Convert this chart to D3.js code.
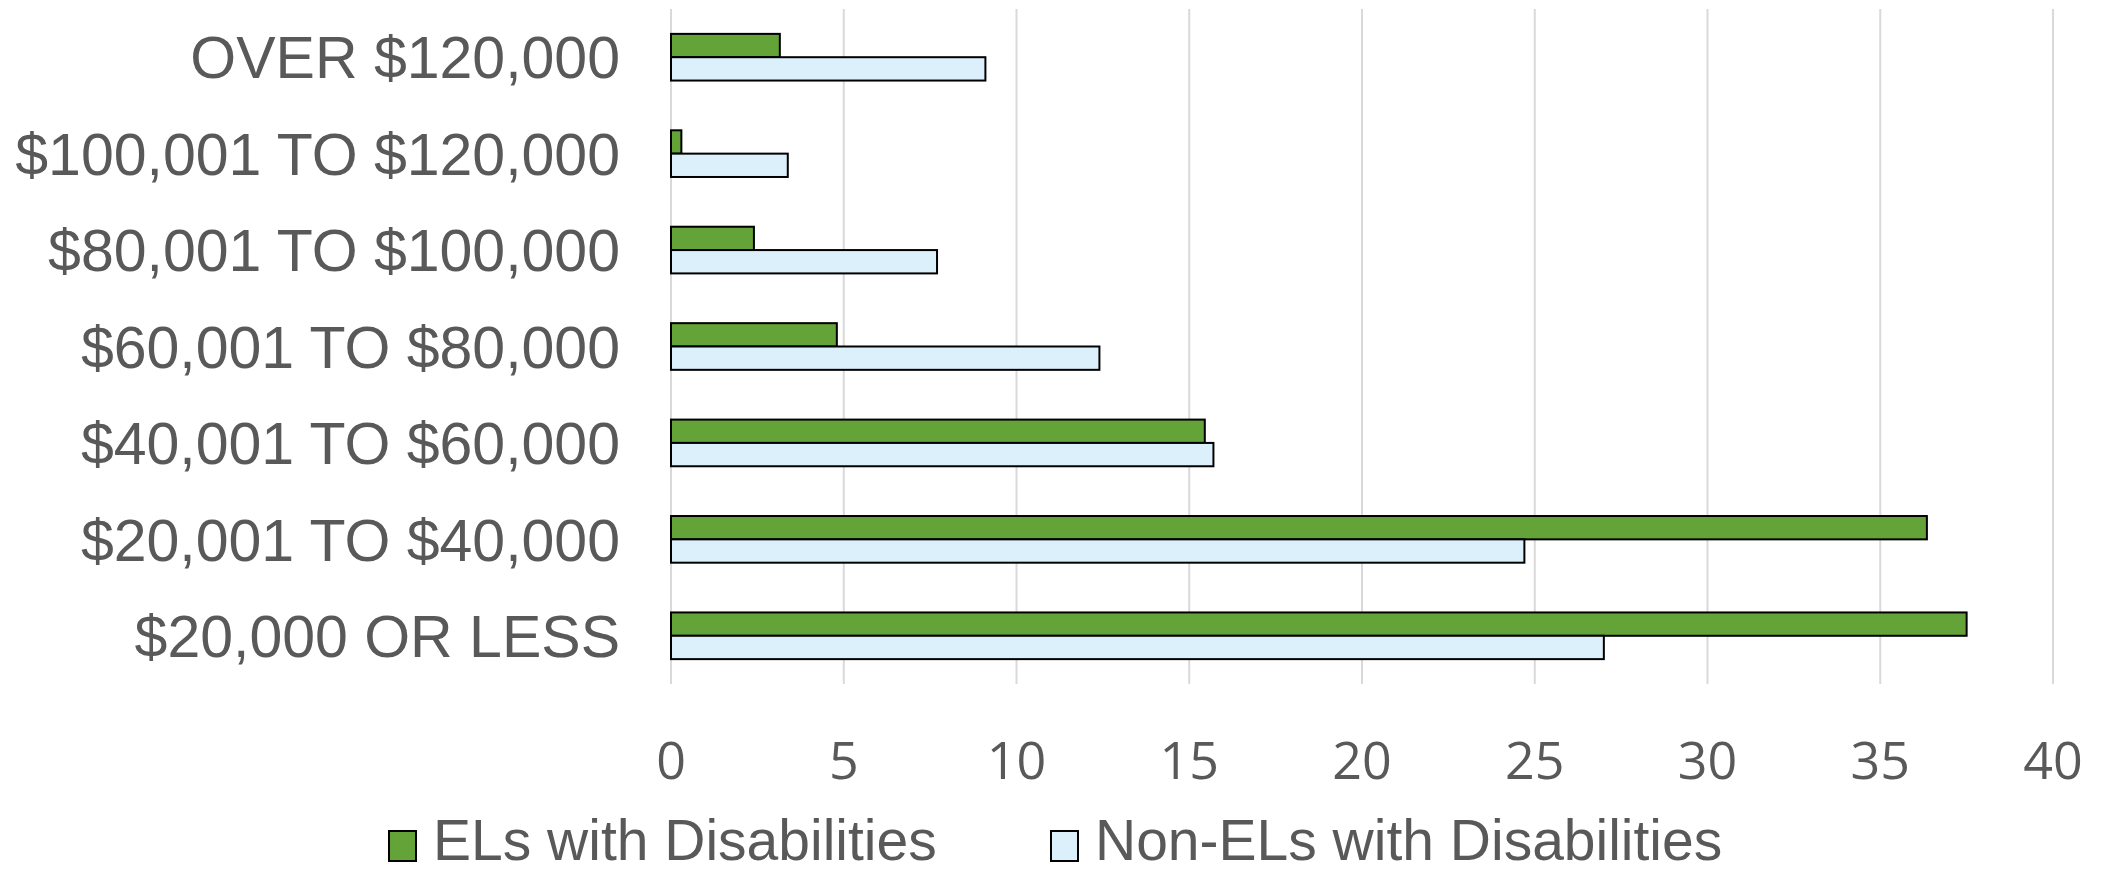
<!DOCTYPE html>
<html>
<head>
<meta charset="utf-8">
<script src="https://cdn.jsdelivr.net/npm/d3@7"></script>
<style>
  body { margin: 0; background: #fff; }
</style>
</head>
<body>
<div id="chart"></div>
<script>
var categories = [
  "OVER $120,000",
  "$100,001 TO $120,000",
  "$80,001 TO $100,000",
  "$60,001 TO $80,000",
  "$40,001 TO $60,000",
  "$20,001 TO $40,000",
  "$20,000 OR LESS"
];
var seriesNames = ["ELs with Disabilities", "Non-ELs with Disabilities"];
var elValues    = [3.15, 0.3, 2.4, 4.8, 15.45, 36.35, 37.5];
var nonElValues = [9.1, 3.38, 7.7, 12.4, 15.7, 24.7, 27.0];
var xTicks = [0, 5, 10, 15, 20, 25, 30, 35, 40];
var colors = ["#63a338", "#dcf0fb"];

var W = 2104, H = 873;
// note: "top" is taken by window.top, so plot edges get their own names
var plotLeft = 671, plotRight = 2053, plotTop = 9, plotBottom = 684;
var textColor = "#595959";

var svg = d3.select("#chart")
  .append("svg")
  .attr("width", W)
  .attr("height", H);

var x = d3.scaleLinear().domain([0, 40]).range([plotLeft, plotRight]);
var y = d3.scaleBand().domain(categories).range([plotTop, plotBottom])
  .paddingInner(0.516).paddingOuter(0.258);
var ySub = d3.scaleBand().domain(seriesNames).range([0, y.bandwidth()]);

// gridlines
svg.append("g")
  .selectAll("line")
  .data(xTicks)
  .enter()
  .append("line")
  .attr("x1", function(d){ return x(d); })
  .attr("x2", function(d){ return x(d); })
  .attr("y1", plotTop)
  .attr("y2", plotBottom)
  .attr("stroke", "#d9d9d9")
  .attr("stroke-width", 2);

// bars
var rows = categories.map(function(c, i){
  return { cat: c, vals: [elValues[i], nonElValues[i]] };
});

var groups = svg.append("g")
  .selectAll("g")
  .data(rows)
  .enter()
  .append("g")
  .attr("transform", function(d){ return "translate(0," + y(d.cat) + ")"; });

groups.selectAll("rect")
  .data(function(d){
    return d.vals.map(function(v, j){ return { s: seriesNames[j], v: v, j: j }; });
  })
  .enter()
  .append("rect")
  .attr("x", x(0))
  .attr("y", function(d){ return ySub(d.s); })
  .attr("width", function(d){ return x(d.v) - x(0); })
  .attr("height", ySub.bandwidth())
  .attr("fill", function(d){ return colors[d.j]; })
  .attr("stroke", "#000")
  .attr("stroke-width", 2);

// category labels
svg.append("g")
  .selectAll("text")
  .data(categories)
  .enter()
  .append("text")
  .text(function(d){ return d; })
  .attr("x", 620)
  .attr("y", function(d){ return y(d) + y.bandwidth() / 2; })
  .attr("dy", "0.36em")
  .attr("text-anchor", "end")
  .attr("font-family", "'Liberation Sans', Arial, sans-serif")
  .attr("font-size", 59)
  .attr("fill", textColor);

// x tick labels
svg.append("g")
  .selectAll("text")
  .data(xTicks)
  .enter()
  .append("text")
  .text(function(d){ return d; })
  .attr("x", function(d){ return x(d); })
  .attr("y", 779)
  .attr("text-anchor", "middle")
  .attr("font-family", "'Open Sans', sans-serif")
  .attr("font-size", 52)
  .attr("fill", textColor);

// legend
var legendX = [389, 1051];
var legend = svg.append("g")
  .selectAll("g")
  .data(seriesNames)
  .enter()
  .append("g")
  .attr("transform", function(d, i){ return "translate(" + legendX[i] + ",0)"; });

legend.append("rect")
  .attr("x", 0)
  .attr("y", 831)
  .attr("width", 27)
  .attr("height", 30)
  .attr("fill", function(d, i){ return colors[i]; })
  .attr("stroke", "#000")
  .attr("stroke-width", 2);

legend.append("text")
  .text(function(d){ return d; })
  .attr("x", 44)
  .attr("y", 860)
  .attr("font-family", "'Liberation Sans', Arial, sans-serif")
  .attr("font-size", 57)
  .attr("fill", textColor);
</script>
</body>
</html>
